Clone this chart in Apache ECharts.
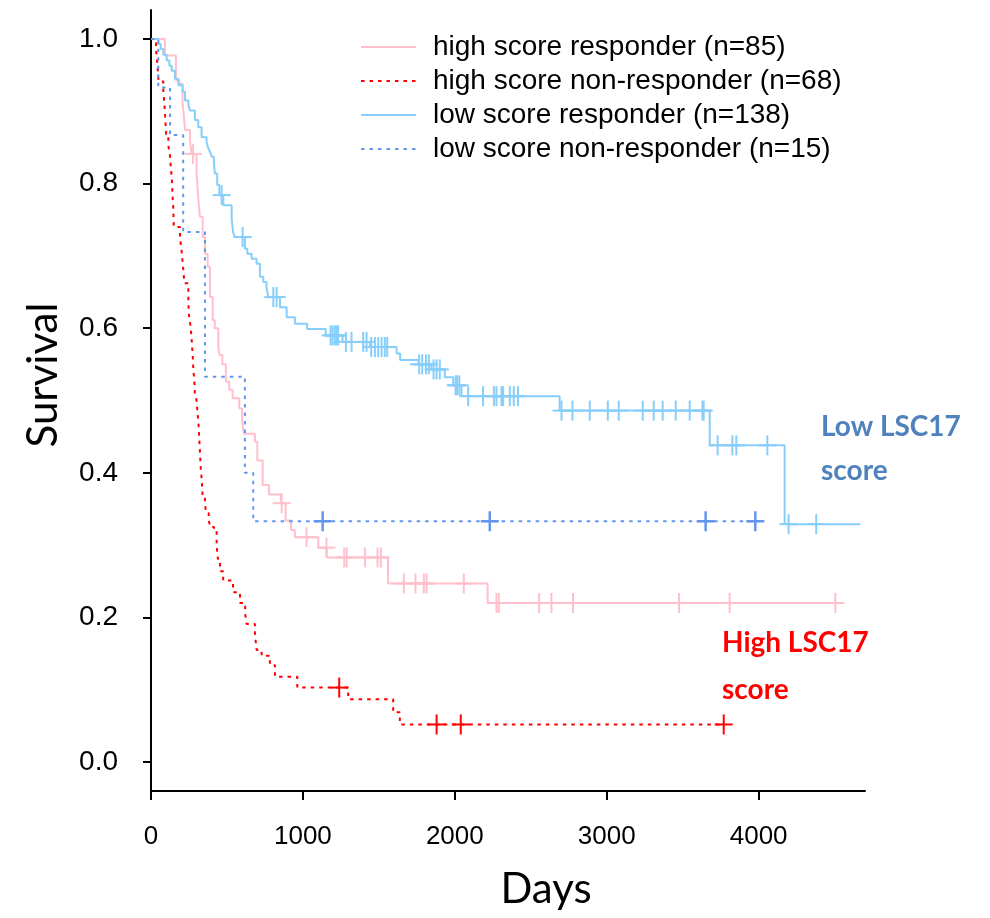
<!DOCTYPE html>
<html><head><meta charset="utf-8">
<script src="https://cdn.jsdelivr.net/npm/echarts@6/dist/echarts.min.js"></script>
<style>html,body{margin:0;padding:0;background:#fff}#c{width:990px;height:918px}</style>
</head><body><div id="c"></div>
<script>
// ---- data ----
const seriesNames = [
  'high score responder (n=85)',
  'high score non-responder (n=68)',
  'low score responder (n=138)',
  'low score non-responder (n=15)'
];
const xTicks = [0, 1000, 2000, 3000, 4000];
const yTicks = [0, 0.2, 0.4, 0.6, 0.8, 1.0];

// Kaplan-Meier step points [day, survival]
const highResp = [[0,1],[92,0.977],[164,0.943],[186,0.938],[208,0.911],[216,0.895],[224,0.874],[257,0.858],[268,0.841],[300,0.814],[305,0.8],[311,0.781],[322,0.754],[340,0.726],[355,0.703],[373,0.685],[388,0.643],[406,0.611],[420,0.6],[443,0.575],[450,0.563],[470,0.55],[493,0.526],[515,0.515],[537,0.503],[581,0.489],[600,0.47],[612,0.454],[684,0.443],[700,0.417],[735,0.383],[776,0.37],[855,0.358],[886,0.334],[921,0.321],[947,0.311],[1101,0.2965],[1156,0.283],[1560,0.247],[2216,0.22],[4505,0.22]];
const highRespCens = [277,860,1024,1155,1272,1288,1408,1491,1513,1664,1741,1796,1814,2059,2274,2290,2555,2636,2778,3476,3809,4505];

const highNon = [[0,1],[33,0.985],[40,0.97],[45,0.956],[50,0.941],[81,0.926],[88,0.912],[92,0.897],[96,0.882],[100,0.868],[114,0.853],[125,0.838],[130,0.824],[136,0.809],[140,0.794],[143,0.779],[147,0.765],[150,0.74],[191,0.726],[200,0.71],[213,0.68],[220,0.662],[246,0.634],[250,0.618],[262,0.6],[268,0.583],[275,0.56],[279,0.542],[285,0.528],[289,0.51],[300,0.5],[305,0.486],[312,0.47],[318,0.445],[322,0.43],[327,0.408],[334,0.39],[340,0.367],[355,0.355],[366,0.344],[380,0.334],[388,0.327],[410,0.324],[432,0.3],[440,0.281],[454,0.264],[475,0.251],[540,0.235],[586,0.22],[620,0.205],[629,0.191],[684,0.178],[695,0.155],[728,0.147],[783,0.134],[816,0.118],[963,0.103],[1298,0.087],[1594,0.069],[1638,0.052],[3770,0.052]];
const highNonCens = [1239,1880,2039,3770];

const lowResp = [[0,1],[48,0.993],[64,0.986],[81,0.978],[103,0.97],[121,0.963],[136,0.956],[158,0.945],[180,0.936],[208,0.927],[224,0.915],[246,0.908],[257,0.901],[289,0.888],[311,0.878],[333,0.864],[366,0.857],[375,0.85],[388,0.844],[400,0.837],[414,0.83],[420,0.814],[436,0.798],[450,0.784],[476,0.77],[531,0.752],[540,0.733],[553,0.726],[618,0.71],[634,0.703],[662,0.696],[695,0.689],[717,0.671],[739,0.664],[760,0.657],[772,0.643],[849,0.629],[893,0.615],[947,0.606],[1028,0.599],[1150,0.59],[1261,0.581],[1441,0.574],[1617,0.565],[1640,0.556],[1760,0.55],[1846,0.543],[1934,0.532],[1989,0.521],[2044,0.506],[2690,0.486],[3678,0.438],[4171,0.329],[4670,0.329]];
const lowRespCens = [465,603,805,827,1182,1195,1210,1222,1232,1283,1320,1397,1419,1450,1474,1496,1518,1539,1555,1765,1785,1810,1829,1860,1880,1901,2005,2015,2030,2088,2186,2257,2274,2307,2318,2362,2388,2416,2702,2774,2888,3007,3079,3237,3309,3368,3454,3546,3630,3638,3730,3827,3853,4057,4197,4379];

const lowNon = [[0,1],[48,0.933],[125,0.867],[212,0.733],[355,0.533],[618,0.4],[673,0.333],[3978,0.333]];
const lowNonCens = [1130,2230,3651,3978];

// ---- helpers ----
function survAt(curve, t){ let y = curve[0][1]; for (const p of curve){ if (p[0] <= t) y = p[1]; else break; } return y; }
function censorData(curve, times){ return times.map(t => [t, survAt(curve, t)]); }
function stepSeries(name, data, color, width, type){
  return {type:'line', name:name, data:data, step:'end', symbol:'none', showSymbol:false,
    lineStyle:{color:color, width:width, type:type}, itemStyle:{color:color}, z:2, silent:true};
}
function plusSeries(curve, times, color, w){
  return {type:'custom', name:'censor', data:censorData(curve, times), z:3, silent:true,
    renderItem:(params, api) => {
      const p = api.coord([api.value(0), api.value(1)]);
      return {type:'group', children:[
        {type:'line', shape:{x1:p[0]-9, y1:p[1], x2:p[0]+9, y2:p[1]}, style:{stroke:color, lineWidth:w}},
        {type:'line', shape:{x1:p[0], y1:p[1]-10, x2:p[0], y2:p[1]+10}, style:{stroke:color, lineWidth:w}}
      ]};
    }};
}

const cPink = '#FFC0CB', cRed = '#FF0000', cLight = '#87CEFA', cBlue = '#6495ED';
const dots = [3.5, 5];

const chart = echarts.init(document.getElementById('c'));
chart.setOption({
  animation:false,
  backgroundColor:'#fff',
  grid:{left:151, top:10, width:714, height:781, containLabel:false},
  legend:{orient:'vertical', left:355, top:27, itemWidth:55, itemHeight:14, itemGap:4,
    data:seriesNames, selectedMode:false,
    itemStyle:{color:'rgba(0,0,0,0)', opacity:0, borderWidth:0},
    textStyle:{fontFamily:'Liberation Sans', fontSize:28, color:'#000', lineHeight:30, padding:[0,0,0,12]}},
  xAxis:{type:'value', min:0, max:4700,
    axisLine:{show:true, onZero:false, lineStyle:{color:'#000', width:2}},
    axisTick:{show:true, length:9, customValues:xTicks, lineStyle:{color:'#000', width:2}},
    axisLabel:{customValues:xTicks, formatter:v => String(Math.round(v)), fontFamily:'Liberation Sans', fontSize:26, color:'#000', margin:33},
    splitLine:{show:false}},
  yAxis:{type:'value', min:-0.04, max:1.04,
    axisLine:{show:true, onZero:false, lineStyle:{color:'#000', width:2}},
    axisTick:{show:true, length:8, customValues:yTicks, lineStyle:{color:'#000', width:2}},
    axisLabel:{customValues:yTicks, formatter:v => Number(v).toFixed(1), fontFamily:'Liberation Sans', fontSize:28, color:'#000', margin:33},
    splitLine:{show:false}},
  graphic:[
    {type:'text', x:43, y:375, rotation:Math.PI/2, style:{text:'Survival', font:'42px Lato', fill:'#000', align:'center', verticalAlign:'middle'}},
    {type:'text', x:546, y:889, style:{text:'Days', font:'42px Lato', fill:'#000', align:'center', verticalAlign:'middle'}},
    {type:'text', x:821, y:427, style:{text:'Low LSC17', font:'bold 28px Lato', fill:'#4F81BD', align:'left', verticalAlign:'middle'}},
    {type:'text', x:821, y:471, style:{text:'score', font:'bold 28px Lato', fill:'#4F81BD', align:'left', verticalAlign:'middle'}},
    {type:'text', x:722, y:643, style:{text:'High LSC17', font:'bold 28px Lato', fill:'#FF0000', align:'left', verticalAlign:'middle'}},
    {type:'text', x:722, y:690, style:{text:'score', font:'bold 28px Lato', fill:'#FF0000', align:'left', verticalAlign:'middle'}}
  ],
  series:[
    stepSeries(seriesNames[0], highResp, cPink, 2, 'solid'),
    stepSeries(seriesNames[1], highNon, cRed, 2, dots),
    stepSeries(seriesNames[2], lowResp, cLight, 2, 'solid'),
    stepSeries(seriesNames[3], lowNon, cBlue, 2, dots),
    plusSeries(highResp, highRespCens, cPink, 2),
    plusSeries(highNon, highNonCens, cRed, 2),
    plusSeries(lowResp, lowRespCens, cLight, 2),
    plusSeries(lowNon, lowNonCens, cBlue, 2.5)
  ]
});
</script>
</body></html>
